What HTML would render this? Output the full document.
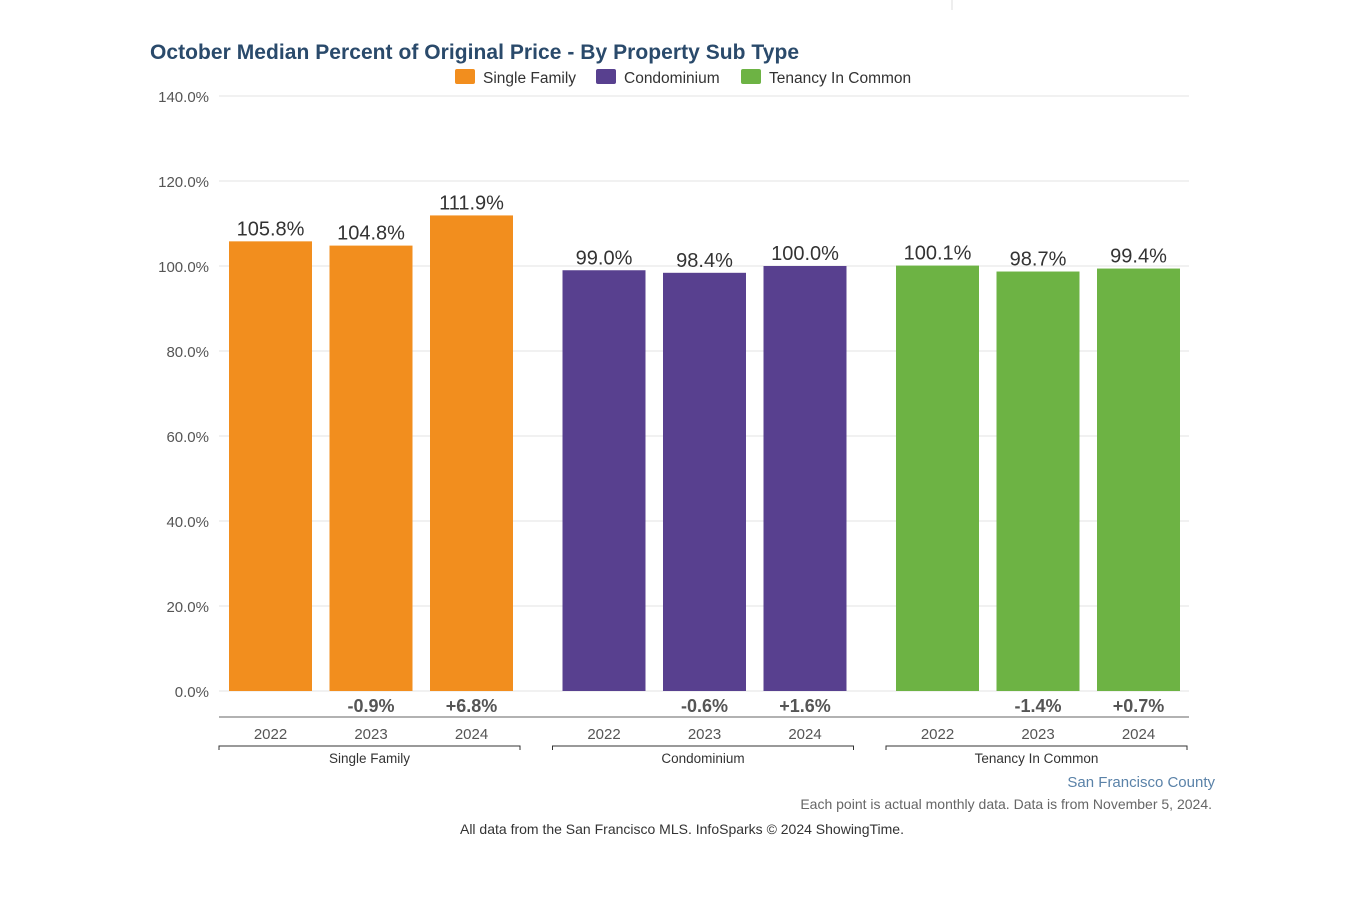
<!DOCTYPE html>
<html><head><meta charset="utf-8"><style>
body{margin:0;background:#fff;font-family:"Liberation Sans",sans-serif;}
svg{display:block}
</style></head><body>
<svg id="chart" width="1365" height="912">
<line x1="952" y1="0" x2="952" y2="10" stroke="#ddd"/>
<text x="150" y="59" font-size="21" font-weight="bold" fill="#2a4a6b" textLength="649">October Median Percent of Original Price - By Property Sub Type</text>
<g>
<rect x="455" y="69" width="20" height="15" rx="2" fill="#f28e1e"/>
<text x="483" y="83" font-size="15.5" fill="#333">Single Family</text>
<rect x="596" y="69" width="20" height="15" rx="2" fill="#58408f"/>
<text x="624" y="83" font-size="15.5" fill="#333">Condominium</text>
<rect x="741" y="69" width="20" height="15" rx="2" fill="#6db344"/>
<text x="769" y="83" font-size="15.5" fill="#333">Tenancy In Common</text>
</g>
<g id="grid"></g><g id="bars"></g><g id="xaxis"></g>
<text x="1215" y="787" font-size="15" fill="#5a82a8" text-anchor="end">San Francisco County</text>
<text x="1212" y="809" font-size="14" fill="#666" text-anchor="end">Each point is actual monthly data. Data is from November 5, 2024.</text>
<text x="682" y="834" font-size="14" fill="#333" text-anchor="middle">All data from the San Francisco MLS. InfoSparks © 2024 ShowingTime.</text>
</svg>
<script>
const groups=["Single Family","Condominium","Tenancy In Common"];
const years=["2022","2023","2024"];
const values=[[105.8,104.8,111.9],[99.0,98.4,100.0],[100.1,98.7,99.4]];
const changes=[["","-0.9%","+6.8%"],["","-0.6%","+1.6%"],["","-1.4%","+0.7%"]];
const yTicks=[0,20,40,60,80,100,120,140];
const colors=["#f28e1e","#58408f","#6db344"];
const NS="http://www.w3.org/2000/svg";
const y=v=>691-v*4.25;
const gx=g=>219+g*333.5;
function mk(t,a,p,txt){const e=document.createElementNS(NS,t);for(const k in a)e.setAttribute(k,a[k]);if(txt!==undefined)e.textContent=txt;p.appendChild(e);return e;}
const grid=document.getElementById('grid'),bars=document.getElementById('bars'),xa=document.getElementById('xaxis');
yTicks.forEach(t=>{
 const l=mk('line',{x1:219,x2:1189,y1:y(t),y2:y(t),stroke:'#e3e3e3'},grid);
 
 
 const tx=mk('text',{x:209,y:y(t)+6,'font-size':15,fill:'#555','text-anchor':'end'},grid,t.toFixed(1)+'%');
 
 
});
values.forEach((vals,g)=>{
 vals.forEach((v,i)=>{
  const x=gx(g)+10+i*100.5;
  const r=mk('rect',{x:x,y:y(v),width:83,height:691-y(v),fill:colors[g]},bars);
  
  
  const t=mk('text',{x:x+41.5,y:y(v)-6,'font-size':20,fill:'#333','text-anchor':'middle'},bars,v.toFixed(1)+'%');
  
  
  if(changes[g][i]){const c=mk('text',{x:x+41.5,y:712,'font-size':18,'font-weight':'bold',fill:'#555','text-anchor':'middle'},bars,changes[g][i]);
  
  }
  const yl=mk('text',{x:x+41.5,y:739,'font-size':15,fill:'#555','text-anchor':'middle'},xa,years[i]);
  
  
 });
 const x0=gx(g),x1=gx(g)+301;
 const b=mk('path',{d:`M${x0} 750V746H${x1}V750`,stroke:'#333',fill:'none'},xa);
 
 
 const gl=mk('text',{x:(x0+x1)/2,y:763,'font-size':13.5,fill:'#333','text-anchor':'middle'},xa,groups[g]);
 
 
});
const ax=mk('line',{x1:219,x2:1189,y1:717,y2:717,stroke:'#999','stroke-width':1.5},xa);


</script>
</body></html>
